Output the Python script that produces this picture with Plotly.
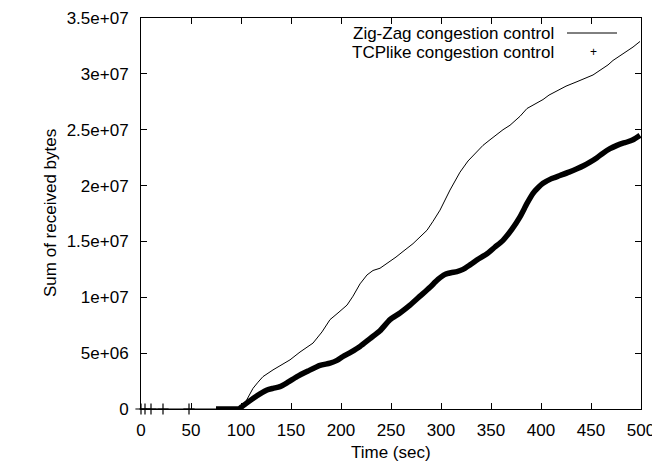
import plotly.graph_objects as go

# Zig-Zag congestion control (time in sec, bytes)
zz_time = [0, 100, 105, 109, 112, 117, 122, 132, 140, 149, 159, 166, 172, 181, 189, 197,
           206, 212, 219, 226, 232, 239, 249, 255, 262, 272, 279, 286, 292, 299, 309, 319,
           327, 336, 342, 349, 356, 362, 369, 379, 386, 394, 402, 408, 414, 425, 436, 445,
           452, 457, 462, 467, 472, 479, 486, 492, 499]
zz_bytes_m = [0, 0, 0.7, 1.4, 1.85, 2.4, 2.9, 3.5, 3.9, 4.4, 5.1, 5.5, 5.9, 6.9, 8.0, 8.6,
              9.3, 10.1, 11.2, 12.0, 12.4, 12.6, 13.2, 13.6, 14.1, 14.8, 15.4, 16.0, 16.8, 17.8, 19.6, 21.2,
              22.2, 23.0, 23.6, 24.1, 24.6, 25.0, 25.4, 26.2, 26.9, 27.3, 27.7, 28.1, 28.4, 28.9, 29.3, 29.6,
              29.9, 30.2, 30.5, 30.8, 31.2, 31.6, 32.0, 32.4, 32.9]

# TCPlike congestion control: early isolated samples, then the dense run
tcp_start_time = [0, 4, 10, 22, 48]
tcp_start_bytes_m = [0, 0, 0, 0, 0]
tcp_time = [75, 80, 85, 90, 95, 98, 100, 106, 112, 119, 126, 132, 139, 147, 156, 167, 179,
            189, 196, 202, 210, 219, 229, 239, 249, 259, 269, 279, 289, 297, 304, 310, 316,
            322, 329, 337, 346, 354, 362, 371, 379, 386, 392, 397, 402, 410, 419, 428, 436,
            443, 449, 456, 462, 469, 476, 482, 486, 492, 499]
tcp_bytes_m = [0, 0, 0, 0, 0, 0, 0.15, 0.55, 0.95, 1.35, 1.7, 1.85, 2.0, 2.4, 2.9, 3.4, 3.9,
               4.1, 4.35, 4.7, 5.1, 5.6, 6.3, 7.0, 8.0, 8.6, 9.3, 10.1, 10.9, 11.6, 12.05, 12.2, 12.3,
               12.5, 12.9, 13.4, 13.9, 14.5, 15.1, 16.1, 17.2, 18.4, 19.3, 19.8, 20.2, 20.6, 20.9, 21.2, 21.5,
               21.8, 22.1, 22.5, 22.9, 23.3, 23.6, 23.8, 23.9, 24.1, 24.5]

x_ticks = [0, 50, 100, 150, 200, 250, 300, 350, 400, 450, 500]
y_ticks = [0, 5e6, 1e7, 1.5e7, 2e7, 2.5e7, 3e7, 3.5e7]
y_tick_labels = ["0", "5e+06", "1e+07", "1.5e+07", "2e+07", "2.5e+07", "3e+07", "3.5e+07"]

legend_labels = ["Zig-Zag congestion control", "TCPlike congestion control"]

FONT = "Liberation Sans, Arial, Helvetica, sans-serif"
FS = 17
OFF = 8  # page body margin in the browser
W, H = 660 - OFF, 465 - OFF
L, T = 141 - OFF, 18 - OFF
R, B = W - (641 - OFF), H - (409 - OFF)
PW, PH = W - L - R, H - T - B

fig = go.Figure()

fig.add_trace(go.Scatter(
    x=zz_time, y=[v * 1e6 for v in zz_bytes_m], mode="lines",
    line=dict(color="black", width=1), showlegend=False))

fig.add_trace(go.Scatter(
    x=tcp_start_time, y=[v * 1e6 for v in tcp_start_bytes_m], mode="markers",
    marker=dict(symbol="cross-thin", size=8, line=dict(color="black", width=1.2)),
    showlegend=False, cliponaxis=False))

fig.add_trace(go.Scatter(
    x=tcp_time, y=[v * 1e6 for v in tcp_bytes_m], mode="lines",
    line=dict(color="black", width=5.5, shape="spline", smoothing=0.6),
    showlegend=False, cliponaxis=False))

axis_common = dict(
    showline=True, linecolor="black", linewidth=1, mirror="ticks",
    ticks="inside", ticklen=6, tickcolor="black", tickwidth=1,
    showgrid=False, zeroline=False, automargin=False,
    tickfont=dict(family=FONT, size=FS, color="black"),
)

fig.update_layout(
    width=W, height=H,
    margin=dict(l=L, r=R, t=T, b=B),
    paper_bgcolor="white", plot_bgcolor="white",
    font=dict(family=FONT, size=FS, color="black"),
    xaxis=dict(range=[0, 500], tickvals=x_ticks, ticklabelstandoff=6, **axis_common),
    yaxis=dict(range=[0, 3.5e7], tickvals=y_ticks, ticktext=y_tick_labels,
               ticklabelstandoff=8, **axis_common),
    showlegend=False,
)

def px_x(p):
    return (p - OFF - L) / PW

def px_y(p):
    return (H - B - (p - OFF)) / PH

# axis titles
fig.add_annotation(xref="paper", yref="paper", x=px_x(391), y=px_y(452), text="Time (sec)",
                   showarrow=False, xanchor="center", yanchor="middle",
                   font=dict(family=FONT, size=FS, color="black"))
fig.add_annotation(xref="paper", yref="paper", x=px_x(50), y=px_y(213), text="Sum of received bytes",
                   showarrow=False, xanchor="center", yanchor="middle", textangle=-90,
                   font=dict(family=FONT, size=FS, color="black"))

# gnuplot-style key: right-aligned text, sample to its right
key_y = [33, 52]
fig.add_annotation(xref="paper", yref="paper", x=px_x(556), y=px_y(key_y[0]),
                   text=legend_labels[0], showarrow=False, xanchor="right", yanchor="middle",
                   font=dict(family=FONT, size=FS, color="black"))
fig.add_annotation(xref="paper", yref="paper", x=px_x(556), y=px_y(key_y[1]),
                   text=legend_labels[1], showarrow=False, xanchor="right", yanchor="middle",
                   font=dict(family=FONT, size=FS, color="black"))
fig.add_shape(type="line", xref="paper", yref="paper",
              x0=px_x(567), x1=px_x(617), y0=px_y(key_y[0]), y1=px_y(key_y[0]),
              line=dict(color="black", width=1))
fig.add_annotation(xref="paper", yref="paper", x=px_x(593), y=px_y(key_y[1]),
                   text="+", showarrow=False, xanchor="center", yanchor="middle",
                   font=dict(family=FONT, size=12, color="black"))

fig.write_html("out.html")
